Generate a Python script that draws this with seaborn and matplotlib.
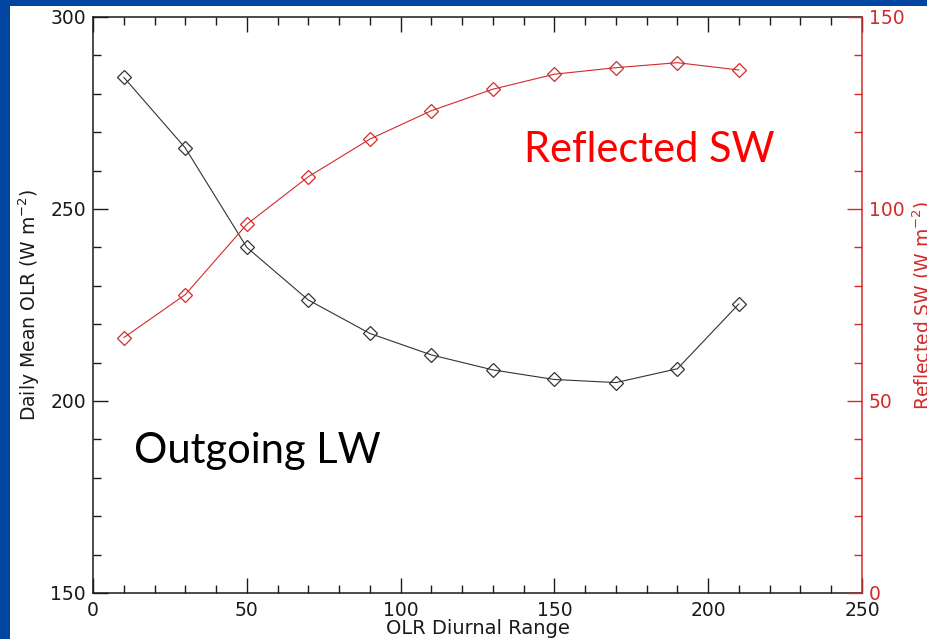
import matplotlib
matplotlib.use("Agg")
import matplotlib.pyplot as plt
from matplotlib.ticker import MultipleLocator
from matplotlib.patches import Rectangle
import seaborn as sns
import pandas as pd

# Binned OLR diurnal range (W m-2)
diurnal_range = [10, 30, 50, 70, 90, 110, 130, 150, 170, 190, 210]
# Daily mean outgoing longwave radiation per bin (W m-2)
olr_mean = [284.3, 265.9, 240.0, 226.3, 217.6, 212.0, 208.1, 205.6, 204.8, 208.4, 225.3]
# Reflected shortwave per bin (W m-2)
sw_reflected = [66.5, 77.7, 96.0, 108.4, 118.2, 125.6, 131.2, 135.1, 136.8, 138.1, 136.2]

df = pd.DataFrame({"range": diurnal_range, "olr": olr_mean, "sw": sw_reflected})

sns.set_theme(style="ticks")
plt.rcParams["font.family"] = ["DejaVu Sans"]
plt.rcParams["axes.linewidth"] = 1.1

SLIDE_BLUE = "#0046a0"
AX_RED = "#d42a2a"
INK = "#1a1a1a"

fig = plt.figure(figsize=(9.27, 6.39), dpi=100, facecolor=SLIDE_BLUE)
fig.patches.append(Rectangle((10 / 927, 0), 1, 1 - 6 / 639, transform=fig.transFigure,
                             facecolor="white", edgecolor="none", zorder=-10))

ax = fig.add_axes([93 / 927, 1 - 593 / 639, 769 / 927, 576 / 639])
ax.set_facecolor("white")
ax2 = ax.twinx()

sns.lineplot(data=df, x="range", y="olr", ax=ax, color="#333333", linewidth=0.8,
             marker="D", markersize=6.8, markerfacecolor="none",
             markeredgecolor="#333333", markeredgewidth=0.9)
sns.lineplot(data=df, x="range", y="sw", ax=ax2, color=AX_RED, linewidth=0.8,
             marker="D", markersize=6.8, markerfacecolor="none",
             markeredgecolor=AX_RED, markeredgewidth=0.9)
for line in ax.lines + ax2.lines:
    line.set_markerfacecolor("none")

ax.set_xlim(0, 250)
ax.set_ylim(150, 300)
ax2.set_ylim(0, 150)

ax.xaxis.set_major_locator(MultipleLocator(50))
ax.xaxis.set_minor_locator(MultipleLocator(10))
ax.yaxis.set_major_locator(MultipleLocator(50))
ax.yaxis.set_minor_locator(MultipleLocator(10))
ax2.yaxis.set_major_locator(MultipleLocator(50))
ax2.yaxis.set_minor_locator(MultipleLocator(10))

ax.tick_params(which="both", direction="in", top=True, right=False, colors=INK,
               labelsize=13.5, width=1.0)
ax.tick_params(which="major", length=11, pad=5)
ax.tick_params(which="minor", length=5.5)
ax.tick_params(axis="x", which="major", pad=6)

ax2.tick_params(which="both", direction="in", colors=AX_RED, labelsize=13.5, width=1.0)
ax2.tick_params(which="major", length=11, pad=5)
ax2.tick_params(which="minor", length=5.5)

for s in ["left", "bottom", "top"]:
    ax.spines[s].set_color(INK)
ax.spines["right"].set_visible(False)
for s in ["left", "bottom", "top"]:
    ax2.spines[s].set_visible(False)
ax2.spines["right"].set_color(AX_RED)

ax.set_xlabel("OLR Diurnal Range", fontsize=14, color=INK, labelpad=-1)
ax.set_ylabel("Daily Mean OLR (W m$^{-2}$)", fontsize=13.5, color=INK, labelpad=6)
ax2.set_ylabel("Reflected SW (W m$^{-2}$)", fontsize=13.5, color=AX_RED, labelpad=4)

ax.text(180.7, 265.4, "Reflected SW", color="#ff0000", fontsize=30,
        family=["Lato", "DejaVu Sans"], ha="center", va="center")
ax.text(53.3, 186.9, "Outgoing LW", color="black", fontsize=30,
        family=["Lato", "DejaVu Sans"], ha="center", va="center")

fig.savefig("out.png", dpi=100, facecolor=SLIDE_BLUE)
